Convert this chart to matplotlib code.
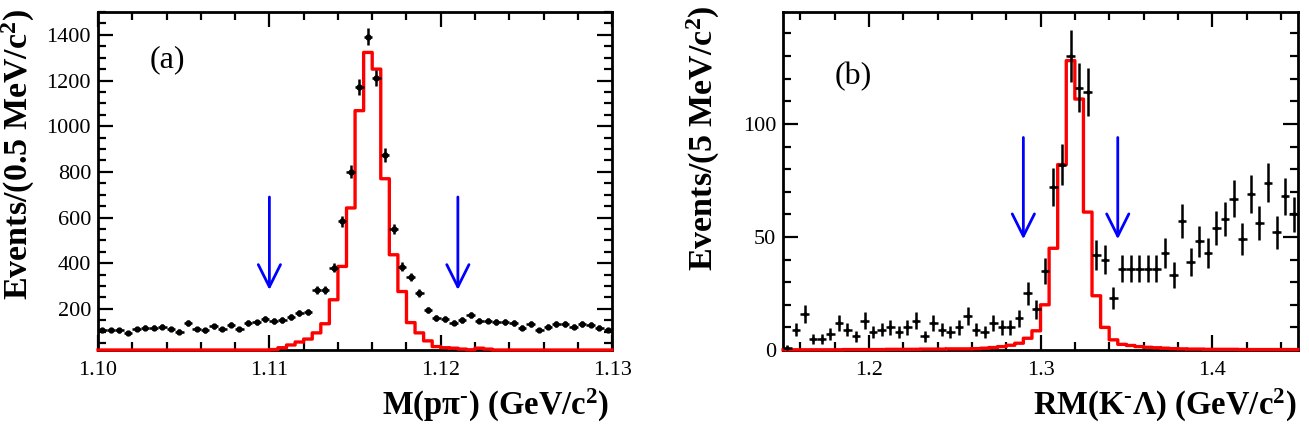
import numpy as np
import matplotlib.pyplot as plt
from matplotlib.ticker import MultipleLocator, FormatStrFormatter

plt.rcParams['font.family'] = 'Liberation Serif'
plt.rcParams['mathtext.fontset'] = 'custom'
plt.rcParams['mathtext.rm'] = 'Liberation Serif:bold'
plt.rcParams['mathtext.bf'] = 'Liberation Serif:bold'
plt.rcParams['mathtext.it'] = 'Liberation Serif:bold'
plt.rcParams['mathtext.default'] = 'bf'

# ---------------- (a) M(p pi-) : 60 bins of 0.5 MeV ---------------- #
a_range = (1.10, 1.13)
a_ylim = (20, 1500)
a_data = [108, 108, 106, 94, 112, 117, 117, 121, 112, 101,
          139, 112, 106, 123, 112, 130, 112, 139, 141, 156,
          148, 152, 166, 182, 185, 283, 283, 380, 583, 801,
          1172, 1392, 1212, 875, 550, 384, 340, 270, 196, 160,
          156, 140, 152, 174, 149, 149, 143, 143, 139, 117,
          134, 108, 121, 134, 134, 121, 134, 130, 117, 108]
a_mc = [5, 5, 5, 5, 5, 5, 5, 5, 5, 5,
        5, 5, 5, 5, 5, 5, 5, 5, 5, 5,
        22, 30, 42, 55, 68, 95, 135, 240, 386, 642,
        1068, 1323, 1250, 770, 437, 276, 140, 95, 60, 35,
        30, 28, 24, 21, 28, 24, 5, 5, 5, 5,
        5, 5, 5, 5, 5, 5, 5, 5, 5, 5]
a_arrows = [1.110, 1.121]
a_arrow_y = (690, 283)

# ---------------- (b) RM(K- Lambda) : 60 bins of 5 MeV ---------------- #
b_range = (1.15, 1.45)
b_ylim = (0, 149.5)
b_data = [1, 9, 16, 5, 5, 7, 12, 9, 6, 13,
          8, 9, 10, 8, 10, 13, 6, 12, 9, 8,
          10, 15, 9, 8, 12, 10, 10, 14, 25, 18,
          35, 72, 82, 130, 116, 114, 42, 40, 23, 36,
          36, 36, 36, 36, 43, 33, 57, 39, 48, 43,
          54, 58, 67, 49, 69, 56, 74, 52, 68, 60]
b_mc = [0.1, 0.1, 0.1, 0.1, 0.1, 0.1, 0.1, 0.2, 0.2, 0.2,
        0.2, 0.2, 0.3, 0.3, 0.3, 0.3, 0.4, 0.4, 0.4, 0.5,
        0.5, 0.5, 0.6, 0.8, 1.1, 1.5, 2.1, 3.0, 5.2, 8.5,
        20, 45, 82, 128, 111, 61, 24, 10, 4.5, 2.5,
        2.0, 1.5, 1.2, 1.0, 0.8, 0.6, 0.5, 0.4, 0.4, 0.3,
        0.3, 0.3, 0.3, 0.2, 0.2, 0.2, 0.2, 0.2, 0.2, 0.2]
b_arrows = [1.290, 1.345]
b_arrow_y = (94, 49)

fig = plt.figure(figsize=(13.09, 4.32), dpi=100)
ax_a = fig.add_axes([0.0749, 0.1898, 0.3927, 0.7824])
ax_b = fig.add_axes([0.5982, 0.1898, 0.3934, 0.7824])


def draw_panel(ax, rng, data, mc, ylim, arrows, arrow_y, msize):
    data = np.asarray(data, dtype=float)
    mc = np.clip(np.asarray(mc, dtype=float), ylim[0], None)
    edges = np.linspace(rng[0], rng[1], len(data) + 1)
    centers = 0.5 * (edges[1:] + edges[:-1])
    half = 0.5 * (edges[1] - edges[0])
    for s in ax.spines.values():
        s.set_linewidth(2)
    # MC shape as a step outline, held at the frame bottom like ROOT does
    ax.plot(np.repeat(edges, 2)[1:-1], np.repeat(mc, 2), color='red',
            lw=2.4, zorder=3, clip_on=False, snap=False)
    ax.errorbar(centers, data, yerr=np.sqrt(data), xerr=half, fmt='o',
                color='black', ms=msize, elinewidth=1.8, capsize=0, zorder=4)
    for x in arrows:
        ax.annotate('', xy=(x, arrow_y[1]), xytext=(x, arrow_y[0]),
                    arrowprops=dict(arrowstyle='->,head_length=0.4,head_width=0.2',
                                    color='blue', lw=2, mutation_scale=40,
                                    shrinkA=0, shrinkB=0), zorder=5)
    ax.set_xlim(rng)
    ax.set_ylim(ylim)
    ax.tick_params(which='both', direction='in', top=True, right=True,
                   labelsize=16, width=1.6)
    ax.tick_params(which='major', length=11)
    ax.tick_params(which='minor', length=5.5)
    ax.tick_params(axis='x', pad=8)
    ax.tick_params(axis='y', pad=5)


draw_panel(ax_a, a_range, a_data, a_mc, a_ylim, a_arrows, a_arrow_y, 3.5)
draw_panel(ax_b, b_range, b_data, b_mc, b_ylim, b_arrows, b_arrow_y, 2)

ax_a.xaxis.set_major_locator(MultipleLocator(0.01))
ax_a.xaxis.set_minor_locator(MultipleLocator(0.002))
ax_a.xaxis.set_major_formatter(FormatStrFormatter('%.2f'))
ax_a.yaxis.set_major_locator(MultipleLocator(200))
ax_a.yaxis.set_minor_locator(MultipleLocator(50))

ax_b.xaxis.set_major_locator(MultipleLocator(0.1))
ax_b.xaxis.set_minor_locator(MultipleLocator(0.02))
ax_b.xaxis.set_major_formatter(FormatStrFormatter('%.1f'))
ax_b.yaxis.set_major_locator(MultipleLocator(50))
ax_b.yaxis.set_minor_locator(MultipleLocator(10))

ax_a.text(0.10, 0.858, '(a)', transform=ax_a.transAxes, fontsize=23,
          va='center')
ax_b.text(0.10, 0.808, '(b)', transform=ax_b.transAxes, fontsize=23,
          va='center')

W, H = 1309, 432
fig.text(18 / W, 1 - 9 / H, r'Events/(0.5 MeV/c$^{2}$)', rotation=90,
         ha='center', va='top', fontsize=24.5, fontweight='bold')
fig.text(703 / W, 1 - 5 / H, r'Events/(5 MeV/c$^{2}$)', rotation=90,
         ha='center', va='top', fontsize=24.5, fontweight='bold')
fig.text(609 / W, 1 - 405 / H, r'M(pπ$^{‐}$) (GeV/c$^{2}$)',
         ha='right', va='center', fontsize=23.5, fontweight='bold')
fig.text(1296 / W, 1 - 405 / H, r'RM(K$^{‐}$Λ) (GeV/c$^{2}$)',
         ha='right', va='center', fontsize=23.5, fontweight='bold')

fig.savefig('out.png', dpi=100)
